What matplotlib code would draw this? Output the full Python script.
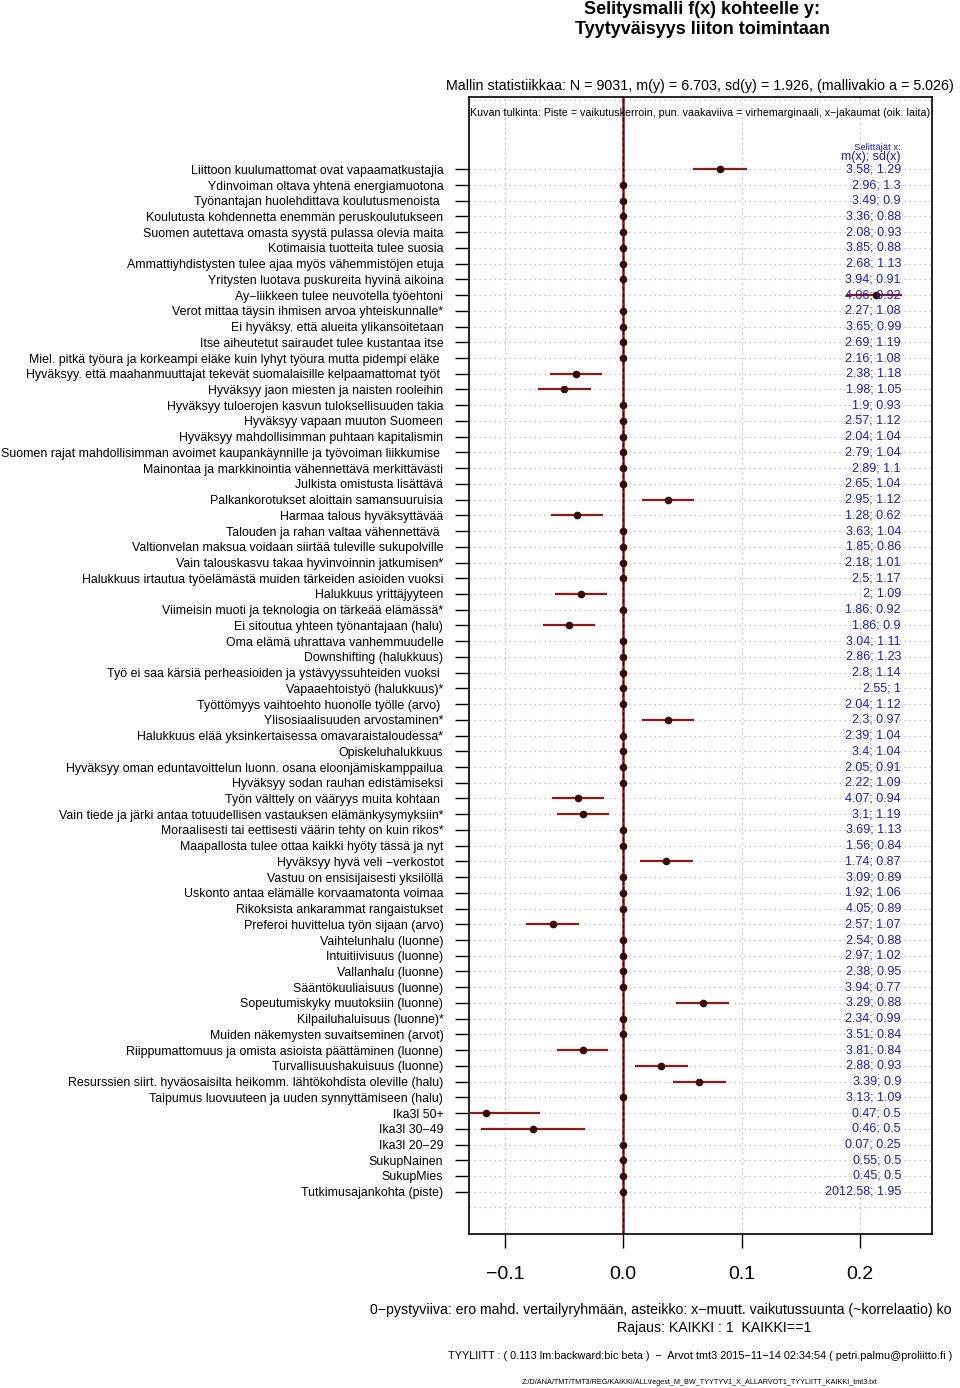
import numpy as np
import matplotlib
matplotlib.use("Agg")
import matplotlib.pyplot as plt
import matplotlib.transforms as mtransforms

plt.rcParams['font.family'] = ['Liberation Sans', 'DejaVu Sans']

# selittajat (ylhaalta alas)
labels = [
    "Liittoon kuulumattomat ovat vapaamatkustajia",
    "Ydinvoiman oltava yhtenä energiamuotona",
    "Työnantajan huolehdittava koulutusmenoista ",
    "Koulutusta kohdennetta enemmän peruskoulutukseen",
    "Suomen autettava omasta syystä pulassa olevia maita",
    "Kotimaisia tuotteita tulee suosia",
    "Ammattiyhdistysten tulee ajaa myös vähemmistöjen etuja",
    "Yritysten luotava puskureita hyvinä aikoina",
    "Ay\u2212liikkeen tulee neuvotella työehtoni",
    "Verot mittaa täysin ihmisen arvoa yhteiskunnalle*",
    "Ei hyväksy. että alueita ylikansoitetaan",
    "Itse aiheutetut sairaudet tulee kustantaa itse",
    "Miel. pitkä työura ja korkeampi eläke kuin lyhyt työura mutta pidempi eläke ",
    "Hyväksyy. että maahanmuuttajat tekevät suomalaisille kelpaamattomat työt ",
    "Hyväksyy jaon miesten ja naisten rooleihin",
    "Hyväksyy tuloerojen kasvun tuloksellisuuden takia",
    "Hyväksyy vapaan muuton Suomeen",
    "Hyväksyy mahdollisimman puhtaan kapitalismin",
    "Suomen rajat mahdollisimman avoimet kaupankäynnille ja työvoiman liikkumise ",
    "Mainontaa ja markkinointia vähennettävä merkittävästi",
    "Julkista omistusta lisättävä",
    "Palkankorotukset aloittain samansuuruisia",
    "Harmaa talous hyväksyttävää",
    "Talouden ja rahan valtaa vähennettävä ",
    "Valtionvelan maksua voidaan siirtää tuleville sukupolville",
    "Vain talouskasvu takaa hyvinvoinnin jatkumisen*",
    "Halukkuus irtautua työelämästä muiden tärkeiden asioiden vuoksi",
    "Halukkuus yrittäjyyteen",
    "Viimeisin muoti ja teknologia on tärkeää elämässä*",
    "Ei sitoutua yhteen työnantajaan (halu)",
    "Oma elämä uhrattava vanhemmuudelle",
    "Downshifting (halukkuus)",
    "Työ ei saa kärsiä perheasioiden ja ystävyyssuhteiden vuoksi ",
    "Vapaaehtoistyö (halukkuus)*",
    "Työttömyys vaihtoehto huonolle työlle (arvo) ",
    "Ylisosiaalisuuden arvostaminen*",
    "Halukkuus elää yksinkertaisessa omavaraistaloudessa*",
    "Opiskeluhalukkuus",
    "Hyväksyy oman eduntavoittelun luonn. osana eloonjämiskamppailua",
    "Hyväksyy sodan rauhan edistämiseksi",
    "Työn välttely on vääryys muita kohtaan ",
    "Vain tiede ja järki antaa totuudellisen vastauksen elämänkysymyksiin*",
    "Moraalisesti tai eettisesti väärin tehty on kuin rikos*",
    "Maapallosta tulee ottaa kaikki hyöty tässä ja nyt",
    "Hyväksyy hyvä veli \u2212verkostot",
    "Vastuu on ensisijaisesti yksilöllä",
    "Uskonto antaa elämälle korvaamatonta voimaa",
    "Rikoksista ankarammat rangaistukset",
    "Preferoi huvittelua työn sijaan (arvo)",
    "Vaihtelunhalu (luonne)",
    "Intuitiivisuus (luonne)",
    "Vallanhalu (luonne)",
    "Sääntökuuliaisuus (luonne)",
    "Sopeutumiskyky muutoksiin (luonne)",
    "Kilpailuhaluisuus (luonne)*",
    "Muiden näkemysten suvaitseminen (arvot)",
    "Riippumattomuus ja omista asioista päättäminen (luonne)",
    "Turvallisuushakuisuus (luonne)",
    "Resurssien siirt. hyväosaisilta heikomm. lähtökohdista oleville (halu)",
    "Taipumus luovuuteen ja uuden synnyttämiseen (halu)",
    "Ika3l 50+",
    "Ika3l 30\u221249",
    "Ika3l 20\u221229",
    "SukupNainen",
    "SukupMies",
    "Tutkimusajankohta (piste)",
]

# x-muuttujien keskiarvo ja hajonta
mx = [3.58, 2.96, 3.49, 3.36, 2.08, 3.85, 2.68, 3.94, 4.06, 2.27, 3.65,
      2.69, 2.16, 2.38, 1.98, 1.9, 2.57, 2.04, 2.79, 2.89, 2.65, 2.95, 1.28,
      3.63, 1.85, 2.18, 2.5, 2, 1.86, 1.86, 3.04, 2.86, 2.8, 2.55, 2.04,
      2.3, 2.39, 3.4, 2.05, 2.22, 4.07, 3.1, 3.69, 1.56, 1.74, 3.09, 1.92,
      4.05, 2.57, 2.54, 2.97, 2.38, 3.94, 3.29, 2.34, 3.51, 3.81, 2.88, 3.39,
      3.13, 0.47, 0.46, 0.07, 0.55, 0.45, 2012.58]
sdx = [1.29, 1.3, 0.9, 0.88, 0.93, 0.88, 1.13, 0.91, 0.92, 1.08, 0.99,
       1.19, 1.08, 1.18, 1.05, 0.93, 1.12, 1.04, 1.04, 1.1, 1.04, 1.12, 0.62,
       1.04, 0.86, 1.01, 1.17, 1.09, 0.92, 0.9, 1.11, 1.23, 1.14, 1, 1.12,
       0.97, 1.04, 1.04, 0.91, 1.09, 0.94, 1.19, 1.13, 0.84, 0.87, 0.89, 1.06,
       0.89, 1.07, 0.88, 1.02, 0.95, 0.77, 0.88, 0.99, 0.84, 0.84, 0.93, 0.9,
       1.09, 0.5, 0.5, 0.25, 0.5, 0.5, 1.95]

# mallin valitsemat selittajat: rivi (1 = ylin), beta, virhemarginaali ala/yla
sel_rows = [1, 9, 14, 15, 22, 23, 28, 30, 36, 41, 42, 45, 49, 54, 57, 58, 59, 61, 62]
sel_beta = [0.082, 0.214, -0.040, -0.050, 0.038, -0.039, -0.036, -0.046, 0.038,
            -0.038, -0.034, 0.036, -0.059, 0.067, -0.034, 0.032, 0.064, -0.116, -0.076]
sel_lo = [0.059, 0.188, -0.062, -0.072, 0.016, -0.061, -0.058, -0.068, 0.016,
          -0.060, -0.056, 0.014, -0.082, 0.045, -0.056, 0.010, 0.042, -0.160, -0.120]
sel_hi = [0.105, 0.236, -0.018, -0.027, 0.060, -0.017, -0.014, -0.024, 0.060,
          -0.016, -0.012, 0.059, -0.037, 0.089, -0.013, 0.055, 0.087, -0.070, -0.032]

xticks = [-0.1, 0.0, 0.1, 0.2]

n = len(labels)
rows = np.arange(1, n + 1)
beta = np.zeros(n)
beta[np.array(sel_rows) - 1] = sel_beta

W, H = 960, 1388
fig = plt.figure(figsize=(W / 100, H / 100), dpi=100)
ax = fig.add_axes([469 / W, 1 - 1234 / H, (932 - 469) / W, (1234 - 97) / H])

ax.set_xlim(-0.1304, 0.261)
ax.set_ylim(68.69, -3.596)

# ruudukko
grid_kw = dict(colors='#b4b4b4', linestyles=(0, (1, 3)), lw=0.9, zorder=1)
ax.hlines(np.arange(1, n + 2), -0.1304, 0.261, **grid_kw)
ax.hlines([-3.4], -0.1304, 0.261, **grid_kw)
ax.vlines(xticks, 68.69, -3.596, **grid_kw)

# 0-pystyviiva
ax.axvline(0, color='#9a1a1a', lw=1.8, zorder=2)
ax.axvline(0, color='#3a0000', lw=0.9, dashes=(3, 2), zorder=3)

# virhemarginaalit ja pisteet
ax.hlines(sel_rows, sel_lo, sel_hi, colors='#8b1a1a', lw=1.6, zorder=4)
ax.plot(beta, rows, 'o', color='#3a0808', ms=4.5, zorder=5)

# x-jakaumat oikealla
tr = mtransforms.blended_transform_factory(ax.transAxes, ax.transData)
for r, m, s in zip(rows, mx, sdx):
    ax.text(0.933, r, f"{m:g}; {s:g}", transform=tr, ha='right', va='center',
            color='#2020a8', fontsize=9, zorder=6)
ax.text(0.933, 0.2, "m(x); sd(x)", transform=tr, ha='right', va='center', color='#2020a8', fontsize=9)
ax.text(0.933, -0.4, "Selittäjät x:", transform=tr, ha='right', va='center', color='#2020a8', fontsize=6.8)

ax.set_yticks(rows)
ax.set_yticklabels(labels, fontsize=8.95)
ax.tick_params(axis='y', direction='out', length=10, width=1, pad=8.5)
ax.set_xticks(xticks)
ax.set_xticklabels(["\u22120.1", "0.0", "0.1", "0.2"], fontsize=14)
ax.tick_params(axis='x', direction='out', length=10, width=1, pad=13)
for sp in ax.spines.values():
    sp.set_linewidth(1.2)

ax.text(0.5, 0.986, "Kuvan tulkinta: Piste = vaikutuskerroin, pun. vaakaviiva = virhemarginaali, x\u2212jakaumat (oik. laita)",
        transform=ax.transAxes, ha='center', va='center', fontsize=7.65)

# otsikot ja alatekstit
fig.text(702 / W, 1 - 10 / H, "Selitysmalli f(x) kohteelle y:", ha='center', va='center', fontsize=13, fontweight='bold')
fig.text(702 / W, 1 - 30 / H, "Tyytyväisyys liiton toimintaan", ha='center', va='center', fontsize=13, fontweight='bold')
fig.text(700 / W, 1 - 86 / H, "Mallin statistiikkaa: N = 9031, m(y) = 6.703, sd(y) = 1.926, (mallivakio a = 5.026)",
         ha='center', va='center', fontsize=10.3)
fig.text(370 / W, 1 - 1310 / H, "0\u2212pystyviiva: ero mahd. vertailyryhmään, asteikko: x\u2212muutt. vaikutussuunta (~korrelaatio) ko",
         ha='left', va='center', fontsize=10.15)
fig.text(714 / W, 1 - 1328 / H, "Rajaus: KAIKKI : 1  KAIKKI==1", ha='center', va='center', fontsize=10.2)
fig.text(700 / W, 1 - 1356 / H, "TYYLIITT : ( 0.113 lm:backward:bic beta )  \u2212  Arvot tmt3 2015\u221211\u221214 02:34:54 ( petri.palmu@proliitto.fi )",
         ha='center', va='center', fontsize=7.8)
fig.text(700 / W, 1 - 1382 / H, "Z:/D/ANA/TMT/TMT3/REG/KAIKKI/ALL\\regest_M_BW_TYYTYV1_X_ALLARVOT1_TYYLIITT_KAIKKI_tmt3.txt",
         ha='center', va='center', fontsize=5.25)

fig.savefig("out.png", dpi=100)
